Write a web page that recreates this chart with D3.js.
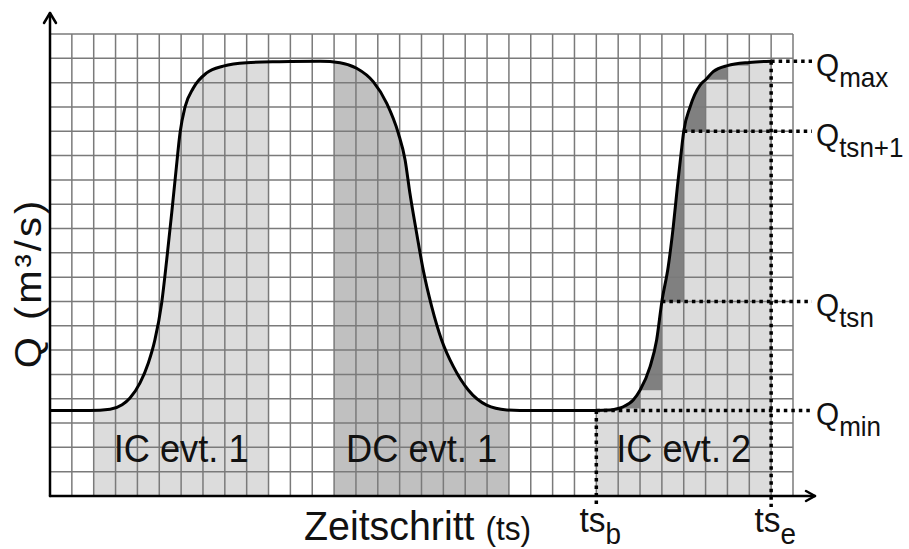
<!DOCTYPE html>
<html>
<head>
<meta charset="utf-8">
<script src="https://cdn.jsdelivr.net/npm/d3@7"></script>
<style>
  html, body { margin: 0; padding: 0; background: #fff; }
  svg { display: block; }
  text { font-family: "Liberation Sans", Arial, sans-serif; fill: #111; }
</style>
</head>
<body>
<svg id="chart" width="909" height="549"></svg>
<script>
// Hydrograph Q(ts), expressed in grid units (1 column = 1 time step, 1 row = 1 Q unit)
const hydroTs = [0, 1, 1.83, 2.75, 3.3, 3.66, 4.12, 4.5, 4.8, 5.11, 5.34, 5.57, 5.77, 5.95, 6.18, 6.56, 7.17, 7.93, 9.0, 10.5, 12.36,
  13.27, 14.03, 14.79, 15.41, 15.94, 16.25, 16.47, 16.78, 17.08, 17.47, 17.92, 18.46, 19.14, 19.98, 20.9, 21.5, 23, 25,
  25.63, 26, 26.23, 26.69, 27, 27.46, 27.76, 28, 28.29, 28.52, 28.71, 28.88, 29, 29.29, 29.75, 30, 30.35, 31, 32, 33];
const hydroQ = [3.52, 3.52, 3.52, 3.57, 3.75, 4.03, 4.65, 5.47, 6.42, 7.94, 9.71, 11.64, 13.41, 14.93, 16.0, 16.78, 17.4, 17.68, 17.82, 17.86, 17.88,
  17.82, 17.59, 17.04, 16.15, 14.92, 13.82, 12.45, 10.8, 9.29, 7.78, 6.42, 5.32, 4.36, 3.74, 3.54, 3.52, 3.52, 3.52,
  3.54, 3.6, 3.67, 3.95, 4.35, 5.32, 6.42, 8.0, 9.43, 11.07, 12.72, 14.1, 15.0, 16.0, 16.9, 17.12, 17.45, 17.7, 17.83, 17.88];

// Events (time-step ranges)
const eventNames = ["IC evt. 1", "DC evt. 1", "IC evt. 2"];
const eventStart = [2, 13, 25];
const eventEnd = [10, 21, 33];

// Step approximation of event 2 (value at the start of each time step)
const stepTs = [25, 26, 27, 28, 29, 30, 31, 32];
const stepQ = [3.52, 3.6, 4.35, 8.0, 15.0, 17.12, 17.7, 17.83];

// Reference discharge levels
const refSubs = ["max", "tsn+1", "tsn", "min"];
const refQ = [17.88, 15.0, 8.0, 3.52];
const refFromTs = [33, 29, 28, 25];

// Time-step markers
const tsSubs = ["b", "e"];
const tsMarkTs = [25, 33];
const tsMarkQ = [3.52, 17.88];

const gridCols = 34, gridRows = 19;

const colLight = "#dcdcdc", colMid = "#c0c0c0", colDark = "#808080";
const squeeze = 0.93;

const svg = d3.select("#chart");
const x = d3.scaleLinear().domain([0, gridCols]).range([50, 793]);
const y = d3.scaleLinear().domain([0, gridRows]).range([496, 34]);

const pts = hydroTs.map((t, i) => [t, hydroQ[i]]);
const line = d3.line().x(d => x(d[0])).y(d => y(d[1])).curve(d3.curveMonotoneX);
const area = d3.area().x(d => x(d[0])).y0(y(0)).y1(d => y(d[1])).curve(d3.curveMonotoneX);

const defs = svg.append("defs");
eventNames.forEach((n, i) => {
  defs.append("clipPath").attr("id", "ev" + i)
    .append("rect")
    .attr("x", x(eventStart[i])).attr("width", x(eventEnd[i]) - x(eventStart[i]))
    .attr("y", y(gridRows)).attr("height", y(0) - y(gridRows));
});

// Event fills under the hydrograph
const fillCols = [colLight, colMid, colDark];
eventNames.forEach((n, i) => {
  svg.append("path").datum(pts)
    .attr("d", area)
    .attr("fill", fillCols[i])
    .attr("clip-path", "url(#ev" + i + ")");
});

// Step bars for event 2
svg.append("g").selectAll("rect")
  .data(stepTs.map((t, i) => [t, stepQ[i]]))
  .join("rect")
  .attr("x", d => x(d[0]))
  .attr("width", d => x(d[0] + 1) - x(d[0]))
  .attr("y", d => y(d[1]))
  .attr("height", d => y(0) - y(d[1]))
  .attr("fill", colLight);

// Grid
const grid = svg.append("g").attr("stroke", "#7a7a7a").attr("stroke-width", 1.5);
grid.selectAll(".v").data(d3.range(1, gridCols + 1)).join("line")
  .attr("x1", d => x(d)).attr("x2", d => x(d))
  .attr("y1", y(0)).attr("y2", y(gridRows));
grid.selectAll(".h").data(d3.range(1, gridRows + 1)).join("line")
  .attr("x1", x(0)).attr("x2", x(gridCols))
  .attr("y1", d => y(d)).attr("y2", d => y(d));

// Hydrograph
svg.append("path").datum(pts)
  .attr("d", line)
  .attr("fill", "none")
  .attr("stroke", "#000")
  .attr("stroke-width", 3)
  .attr("stroke-linejoin", "round");

// Dotted reference lines
const dots = svg.append("g").attr("stroke", "#000").attr("stroke-width", 3.5)
  .attr("stroke-dasharray", "3.5,4");
refQ.forEach((q, i) => {
  dots.append("line")
    .attr("x1", x(refFromTs[i])).attr("x2", x(gridCols) + 19)
    .attr("y1", y(q)).attr("y2", y(q));
});
tsMarkTs.forEach((t, i) => {
  dots.append("line")
    .attr("x1", x(t)).attr("x2", x(t))
    .attr("y1", y(tsMarkQ[i])).attr("y2", y(0) + 11);
});

// Axes with arrow heads
const ax = svg.append("g").attr("stroke", "#000").attr("stroke-width", 2.5)
  .attr("fill", "none").attr("stroke-linecap", "round").attr("stroke-linejoin", "round");
const yTip = y(gridRows) - 21, xTip = x(gridCols) + 22;
ax.append("line").attr("x1", x(0)).attr("x2", x(0)).attr("y1", y(0)).attr("y2", yTip);
ax.append("path").attr("d", `M${x(0) - 6},${yTip + 10}L${x(0)},${yTip}L${x(0) + 6},${yTip + 10}`);
ax.append("line").attr("x1", x(0)).attr("x2", xTip).attr("y1", y(0)).attr("y2", y(0));
ax.append("path").attr("d", `M${xTip - 9},${y(0) - 5}L${xTip},${y(0)}L${xTip - 9},${y(0) + 5}`);

// Event labels
eventNames.forEach((n, i) => {
  const cx = (x(eventStart[i]) + x(eventEnd[i])) / 2;
  svg.append("text")
    .attr("transform", `translate(${cx},${y(0) - 34.5}) scale(${squeeze},1)`)
    .attr("text-anchor", "middle")
    .attr("font-size", 39)
    .text(n);
});

// Reference level labels
refQ.forEach((q, i) => {
  const t = svg.append("text")
    .attr("transform", `translate(${x(gridCols) + 23},${y(q) + 15}) scale(${squeeze},1)`)
    .attr("font-size", 32);
  t.append("tspan").text("Q");
  t.append("tspan").attr("font-size", 28).attr("dy", 11).text(refSubs[i]);
});

// Time-step marker labels
tsMarkTs.forEach((ts, i) => {
  const t = svg.append("text")
    .attr("transform", `translate(${x(ts) + 4},${y(0) + 36}) scale(${squeeze},1)`)
    .attr("text-anchor", "middle")
    .attr("font-size", 36);
  t.append("tspan").text("ts");
  t.append("tspan").attr("font-size", 30).attr("dy", 11.5).text(tsSubs[i]);
});

// Axis titles
const xt = svg.append("text")
  .attr("transform", `translate(304,540) scale(0.96,1)`)
  .attr("font-size", 41);
xt.append("tspan").text("Zeitschritt ");
xt.append("tspan").attr("font-size", 33).text("(ts)");

svg.append("text")
  .attr("transform", `translate(41,283) rotate(-90) scale(1,${squeeze})`)
  .attr("text-anchor", "middle")
  .attr("font-size", 40)
  .attr("letter-spacing", 3)
  .text("Q (m³/s)");
</script>
</body>
</html>
